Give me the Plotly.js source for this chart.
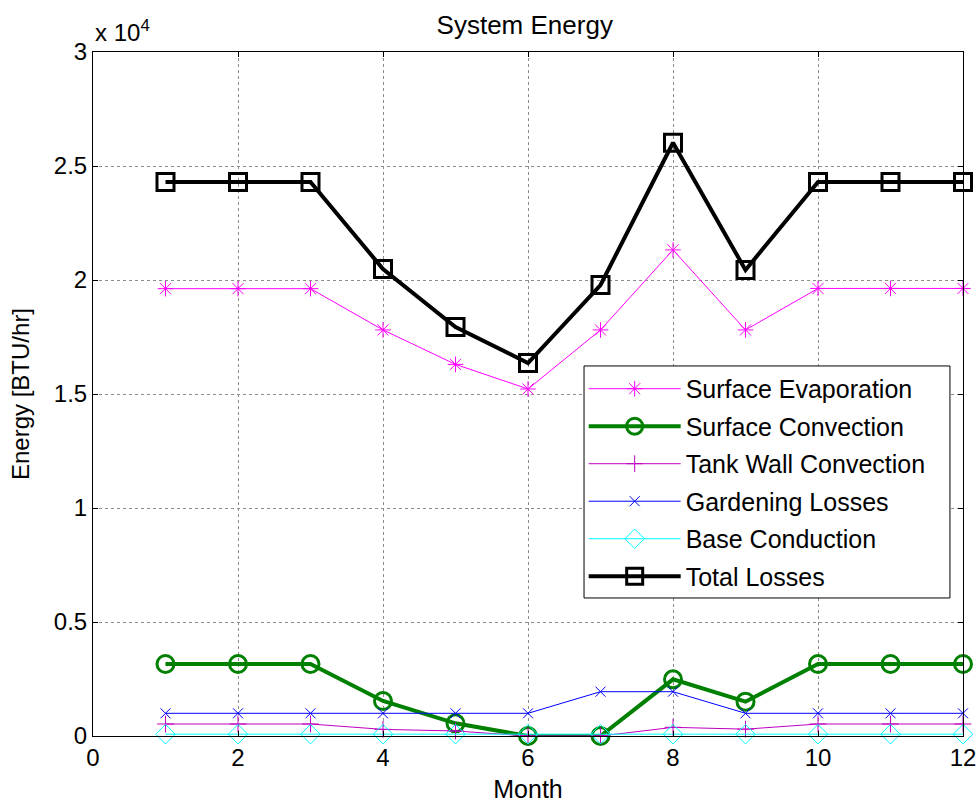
<!DOCTYPE html>
<html>
<head>
<meta charset="utf-8">
<script src="https://cdn.plot.ly/plotly-3.0.1.min.js"></script>
<style>html,body{margin:0;padding:0;background:#fff;}#chart{width:979px;height:807px;}</style>
</head>
<body>
<div id="chart"></div>
<script>
const months = [1,2,3,4,5,6,7,8,9,10,11,12];
const surfaceEvaporation = [19620,19620,19620,17810,16300,15220,17810,21320,17810,19630,19630,19630];
const surfaceConvection = [3160,3160,3160,1535,556,0,0,2485,1505,3160,3160,3160];
const tankWallConvection = [526,526,526,290,220,0,0,380,300,526,526,526];
const gardeningLosses = [995,995,995,995,995,995,1943,1943,995,995,995,995];
const baseConduction = [80,80,80,80,80,80,80,80,80,80,80,80];
const totalLosses = [24300,24300,24300,20480,17940,16360,19780,26020,20440,24300,24300,24300];
const yTickVals = [0,5000,10000,15000,20000,25000,30000];
const yTickText = ["0","0.5","1","1.5","2","2.5","3"];
const xTickVals = [0,2,4,6,8,10,12];

const FONT = "Arial, 'Liberation Sans', sans-serif";

const traces = [
  {name:"Surface Evaporation", y:surfaceEvaporation, line:{color:"#ff00ff",width:1},
   marker:{symbol:"asterisk-open",size:13,color:"#ff00ff",line:{color:"#ff00ff",width:1}}},
  {name:"Surface Convection", y:surfaceConvection, line:{color:"#008000",width:4},
   marker:{symbol:"circle-open",size:17,color:"#008000",line:{color:"#008000",width:3}}},
  {name:"Tank Wall Convection", y:tankWallConvection, line:{color:"#bf00bf",width:1},
   marker:{symbol:"cross-thin-open",size:12,color:"#bf00bf",line:{color:"#bf00bf",width:1}}},
  {name:"Gardening Losses", y:gardeningLosses, line:{color:"#0000ff",width:1},
   marker:{symbol:"x-thin-open",size:10,color:"#0000ff",line:{color:"#0000ff",width:1}}},
  {name:"Base Conduction", y:baseConduction, line:{color:"#00ffff",width:1},
   marker:{symbol:"diamond-open",size:15,color:"#00ffff",line:{color:"#00ffff",width:1}}},
  {name:"Total Losses", y:totalLosses, line:{color:"#000000",width:4},
   marker:{symbol:"square-open",size:17,color:"#000000",line:{color:"#000000",width:3}}}
].map((t,i)=>Object.assign({x:months, type:"scatter", mode:"lines+markers", cliponaxis:false, legendgroup:"g"+i}, t));

const layout = {
  width:979, height:807,
  margin:{l:93, r:16, t:52, b:71},
  paper_bgcolor:"#fff", plot_bgcolor:"#fff",
  font:{family:FONT, size:24, color:"#000"},
  title:{text:"System Energy", font:{family:FONT,size:26,color:"#000"}, x:0.536, xanchor:"center",
    yref:"container", y:0.969, yanchor:"middle"},
  xaxis:{range:[0,12], tickvals:xTickVals, ticktext:xTickVals.map(String),
    showline:true, linecolor:"#000", linewidth:1, mirror:"ticks",
    ticks:"inside", ticklen:5, tickcolor:"#000",
    showgrid:true, gridcolor:"#8c8c8c", griddash:"dot", gridwidth:1, zeroline:false,
    tickfont:{size:24}, title:{text:"Month", font:{size:25}, standoff:10}},
  yaxis:{range:[0,30000], tickvals:yTickVals, ticktext:yTickText,
    showline:true, linecolor:"#000", linewidth:1, mirror:"ticks",
    ticks:"inside", ticklen:5, tickcolor:"#000",
    showgrid:true, gridcolor:"#8c8c8c", griddash:"dot", gridwidth:1, zeroline:false,
    tickfont:{size:24}, title:{text:"Energy [BTU/hr]", font:{size:24}, standoff:17}},
  legend:{x:0.564, y:0.541, xanchor:"left", yanchor:"top", bgcolor:"rgba(0,0,0,0)",
    borderwidth:0, font:{size:25}, itemwidth:92, tracegroupgap:2, traceorder:"grouped"},
  showlegend:true,
  shapes:[{type:"rect", xref:"paper", yref:"paper", x0:0.5644, x1:0.985, y0:0.2018, y1:0.541,
    fillcolor:"#fff", line:{color:"#000", width:1}, layer:"above"}],
  annotations:[{text:"x 10<sup>4</sup>", xref:"paper", yref:"paper", x:0, y:1, xanchor:"left", yanchor:"bottom",
    yshift:4, showarrow:false, font:{size:24}}]
};

Plotly.newPlot("chart", traces, layout, {displayModeBar:false, staticPlot:true});
</script>
</body>
</html>
